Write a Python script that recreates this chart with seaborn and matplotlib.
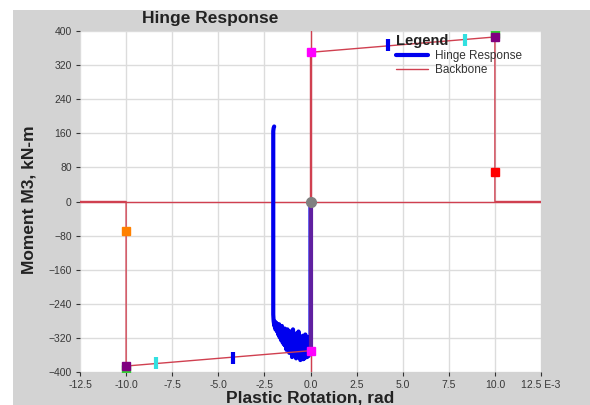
import matplotlib
matplotlib.use("Agg")
import matplotlib.pyplot as plt
import seaborn as sns
import pandas as pd
from matplotlib.patches import Rectangle

# ---------------- data ----------------
x_ticks = [-12.5, -10.0, -7.5, -5.0, -2.5, 0.0, 2.5, 5.0, 7.5, 10.0, 12.5]
x_tick_labels = ["-12.5", "-10.0", "-7.5", "-5.0", "-2.5", "0.0", "2.5", "5.0", "7.5", "10.0", "12.5 E-3"]
y_ticks = [-400, -320, -240, -160, -80, 0, 80, 160, 240, 320, 400]

backbone_x = [-12.5, -10.0, -10.0, 0.0, 0.0, 10.0, 10.0, 12.5]
backbone_y = [0, 0, -386, -350, 350, 386, 0, 0]

hinge_x = [0.0, 0.0, -0.05, -0.1, -0.12, -0.18, -0.2, -0.25, -0.28, -0.32, -0.35,
           -0.4, -0.42, -0.48, -0.5, -0.55, -0.58, -0.62, -0.65, -0.7, -0.72,
           -0.78, -0.8, -0.85, -0.88, -0.92, -0.95, -1.0, -1.02, -1.08, -1.1,
           -1.15, -1.18, -1.22, -1.25, -1.3, -1.32, -1.38, -1.4, -1.45, -1.48,
           -1.52, -1.55, -1.6, -1.62, -1.68, -1.7, -1.75, -1.78, -1.82, -1.85,
           -1.9, -1.92, -1.96, -2.0, -2.02, -2.02, -2.0, -1.97]
hinge_y = [0, -352, -330, -362, -318, -365, -325, -360, -312, -368, -322,
           -370, -315, -362, -330, -372, -318, -365, -305, -360, -325,
           -368, -310, -362, -320, -358, -300, -365, -315, -350, -305,
           -355, -310, -345, -300, -348, -305, -338, -298, -335, -300,
           -330, -292, -325, -300, -318, -288, -312, -295, -305, -285,
           -300, -282, -292, -280, -265, 165, 172, 176]

# performance markers (rotation, moment)
io_x, io_y = [4.2, -4.2], [368, -368]
ls_x, ls_y = [8.4, -8.4], [380, -380]
cp_x, cp_y = [10.0, -10.0], [392, -392]
yield_x, yield_y = [0.0, 0.0], [350, -350]
ult_x, ult_y = [10.0, -10.0], [386, -386]
resid_x, resid_y = [10.0], [70]
resid_neg_x, resid_neg_y = [-10.0], [-70]
origin_x, origin_y = [0.0], [0]

# ---------------- figure ----------------
sns.set_theme(style="white")
plt.rcParams['font.family'] = ['Liberation Sans', 'DejaVu Sans']

fig = plt.figure(figsize=(5.9, 4.05), dpi=100)
fig.patch.set_facecolor("white")
bg = Rectangle((13 / 590, 0), 1 - 13 / 590, 1 - 10 / 405,
               transform=fig.transFigure, facecolor="#d3d3d3",
               edgecolor="none", zorder=-5)
fig.patches.append(bg)

ax = fig.add_axes([80 / 590, 33 / 405, 461 / 590, 341 / 405])
ax.set_zorder(2)
ax.set_facecolor("white")

ax.set_xlim(-12.5, 12.5)
ax.set_ylim(-400, 400)
ax.set_xticks(x_ticks)
ax.set_xticklabels(x_tick_labels)
ax.set_yticks(y_ticks)
ax.grid(True, color="#dcdcdc", lw=1)
ax.set_axisbelow(True)
for s in ax.spines.values():
    s.set_visible(False)
ax.tick_params(axis="both", which="both", direction="out", length=3, width=0.8,
               color="#333333", labelcolor="#383838", labelsize=7.5, pad=3,
               bottom=True, left=True)

# zero lines
ax.axhline(0, color="#d04050", lw=1, zorder=1)
ax.axvline(0, color="#d04050", lw=1, zorder=1)

bb = pd.DataFrame({"x": backbone_x, "y": backbone_y})
hr = pd.DataFrame({"x": hinge_x, "y": hinge_y})

sns.lineplot(data=hr, x="x", y="y", sort=False, estimator=None, color="#0000ee",
             lw=3, ax=ax, label="Hinge Response", zorder=3)
sns.lineplot(data=bb, x="x", y="y", sort=False, estimator=None, color="#d04050",
             lw=1, ax=ax, label="Backbone", zorder=4)
# overlap of response and backbone along x = 0
ax.plot(hinge_x[:2], hinge_y[:2], color="#6020a0", lw=3, zorder=5)

mk = dict(linestyle="none", zorder=6)
ax.plot(cp_x, cp_y, marker="s", ms=6, color="#33cc33", **mk)
ax.plot(ult_x, ult_y, marker="s", ms=6, color="#800080", **mk)
ax.plot(io_x, io_y, marker="|", ms=9, mew=3, color="#0000ee", **mk)
ax.plot(ls_x, ls_y, marker="|", ms=9, mew=3, color="#33e0e0", **mk)
ax.plot(yield_x, yield_y, marker="s", ms=6, color="#ff00ff", **mk)
ax.plot(resid_x, resid_y, marker="s", ms=6, color="#ff0000", **mk)
ax.plot(resid_neg_x, resid_neg_y, marker="s", ms=6, color="#ff8000", **mk)
ax.plot(origin_x, origin_y, marker="o", ms=7, color="#808080", **mk)

ax.set_xlabel("")
ax.set_ylabel("")

leg = ax.legend(loc="upper left", bbox_to_anchor=(0.668, 1.015), frameon=False,
                title="Legend", fontsize=8.5, handlelength=2.7, borderpad=0.2,
                labelspacing=0.15, handletextpad=0.6)
leg.get_title().set_fontweight("bold")
leg.get_title().set_fontsize(10.5)
leg.get_title().set_color("#222222")
leg._legend_box.align = "left"
for t in leg.get_texts():
    t.set_color("#333333")
leg.set_zorder(10)

fig.text(210 / 590, 1 - 18 / 405, "Hinge Response", ha="center", va="center",
         fontsize=12.5, fontweight="bold", color="#222222")
fig.text(310 / 590, 1 - 398 / 405, "Plastic Rotation, rad", ha="center", va="center",
         fontsize=12.5, fontweight="bold", color="#222222")
fig.text(29 / 590, 1 - 200 / 405, "Moment M3, kN-m", ha="center", va="center",
         rotation=90, fontsize=12.5, fontweight="bold", color="#222222")

fig.savefig("out.png", dpi=100, facecolor=fig.get_facecolor())
